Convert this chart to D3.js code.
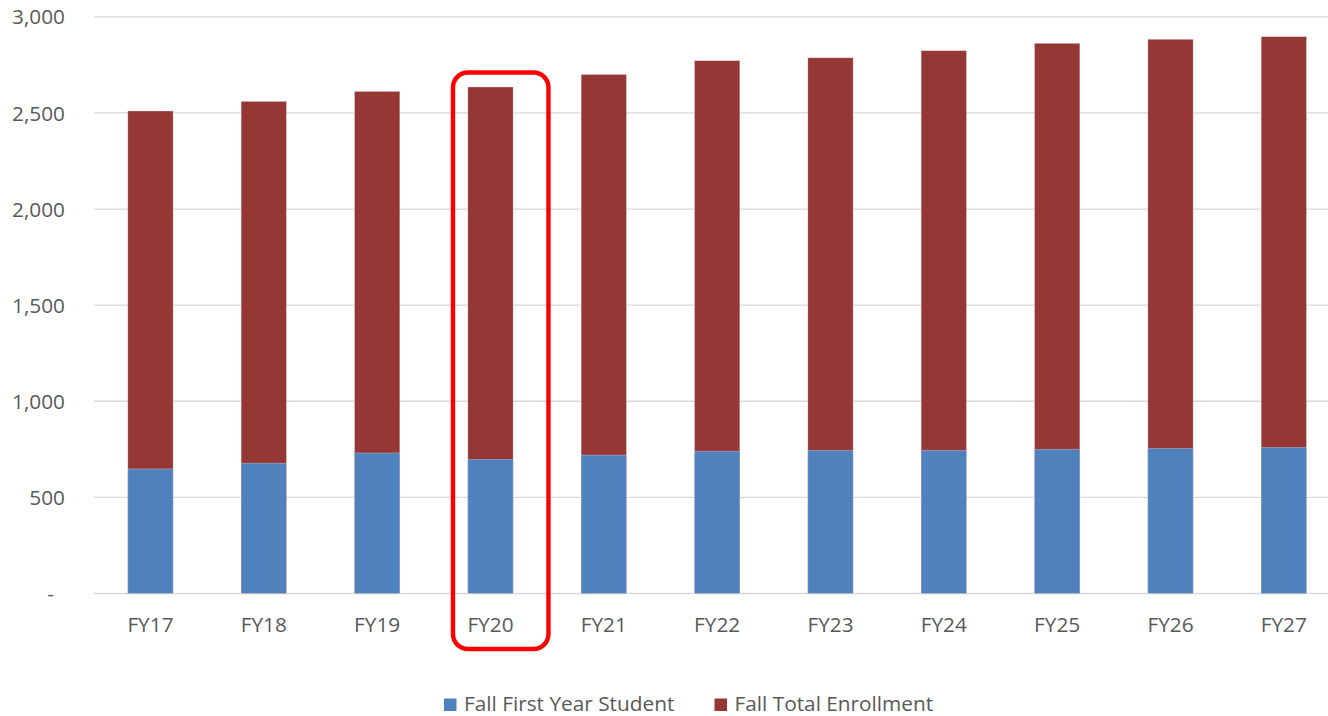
<!DOCTYPE html>
<html>
<head>
<meta charset="utf-8">
<script src="https://cdn.jsdelivr.net/npm/d3@7"></script>
<style>
  html, body { margin: 0; padding: 0; background: #fff; }
  svg { display: block; }
  text { font-family: "Open Sans", Lato, sans-serif; fill: #595959; }
</style>
</head>
<body>
<svg id="chart" width="1328" height="716"></svg>
<script>
// Fiscal years shown on the category axis
const years = ["FY17", "FY18", "FY19", "FY20", "FY21", "FY22", "FY23", "FY24", "FY25", "FY26", "FY27"];
// Fall first-year students per year
const firstYear = [648, 678, 731, 698, 720, 740, 745, 745, 750, 755, 760];
// Fall total enrollment per year
const totalEnrollment = [2510, 2560, 2612, 2635, 2700, 2772, 2787, 2824, 2862, 2883, 2897];
// Value axis ticks
const yTicks = [0, 500, 1000, 1500, 2000, 2500, 3000];
// Legend entries
const seriesNames = ["Fall First Year Student", "Fall Total Enrollment"];
// Year called out with a frame
const highlightYear = "FY20";

const colors = { first: "#4F81BD", total: "#953735", grid: "#D9D9D9", frame: "#FF0000" };
const fontSize = 20.8;

const svg = d3.select("#chart");

const x = d3.scaleBand().domain(years).range([93.8, 1340.5]).paddingInner(0.6).paddingOuter(0.3);
const y = d3.scaleLinear().domain([0, 3000]).range([593.5, 16.8]);

// Gridlines (the zero line doubles as the category axis line)
svg.append("g")
  .selectAll("line")
  .data(yTicks)
  .join("line")
  .attr("x1", 93.8)
  .attr("x2", 1340.5)
  .attr("y1", d => y(d))
  .attr("y2", d => y(d))
  .attr("stroke", colors.grid)
  .attr("stroke-width", 1.3);

// Value axis labels
const fmt = d3.format(",");
svg.append("g")
  .selectAll("text")
  .data(yTicks)
  .join("text")
  .attr("x", d => d === 0 ? 54 : 65)
  .attr("y", d => y(d) + 7.6)
  .attr("text-anchor", "end")
  .attr("font-size", fontSize)
  .text(d => d === 0 ? "-" : fmt(d));

// Total enrollment columns (behind)
svg.append("g")
  .selectAll("rect")
  .data(years.map((yr, i) => ({ yr, v: totalEnrollment[i] })))
  .join("rect")
  .attr("x", d => x(d.yr))
  .attr("width", x.bandwidth())
  .attr("y", d => y(d.v))
  .attr("height", d => y(0) - y(d.v))
  .attr("fill", colors.total)
  .attr("stroke", "#ffffff")
  .attr("stroke-opacity", 0.35)
  .attr("stroke-width", 0.8);

// First-year student columns (in front)
svg.append("g")
  .selectAll("rect")
  .data(years.map((yr, i) => ({ yr, v: firstYear[i] })))
  .join("rect")
  .attr("x", d => x(d.yr))
  .attr("width", x.bandwidth())
  .attr("y", d => y(d.v))
  .attr("height", d => y(0) - y(d.v))
  .attr("fill", colors.first)
  .attr("stroke", "#ffffff")
  .attr("stroke-opacity", 0.35)
  .attr("stroke-width", 0.8);

// Category labels
svg.append("g")
  .selectAll("text")
  .data(years)
  .join("text")
  .attr("x", d => x(d) + x.bandwidth() / 2)
  .attr("y", 632)
  .attr("text-anchor", "middle")
  .attr("font-size", fontSize)
  .text(d => d);

// Callout frame around the highlighted year
const hx = x(highlightYear) + x.bandwidth() / 2;
const frameTop = y(totalEnrollment[years.indexOf(highlightYear)]) - 14.5;
svg.append("rect")
  .attr("x", hx - 37.5)
  .attr("y", frameTop)
  .attr("width", 95.5)
  .attr("height", 649 - frameTop)
  .attr("rx", 15)
  .attr("ry", 15)
  .attr("fill", "none")
  .attr("stroke", colors.frame)
  .attr("stroke-width", 4.4);

// Legend
const legend = svg.append("g");
const legendItems = [
  { name: seriesNames[0], color: colors.first, x: 444 },
  { name: seriesNames[1], color: colors.total, x: 714.5 }
];
legendItems.forEach(it => {
  legend.append("rect")
    .attr("x", it.x)
    .attr("y", 698.5)
    .attr("width", 12.5)
    .attr("height", 12.5)
    .attr("fill", it.color);
  legend.append("text")
    .attr("x", it.x + 20)
    .attr("y", 710.5)
    .attr("font-size", fontSize)
    .text(it.name);
});
</script>
</body>
</html>
